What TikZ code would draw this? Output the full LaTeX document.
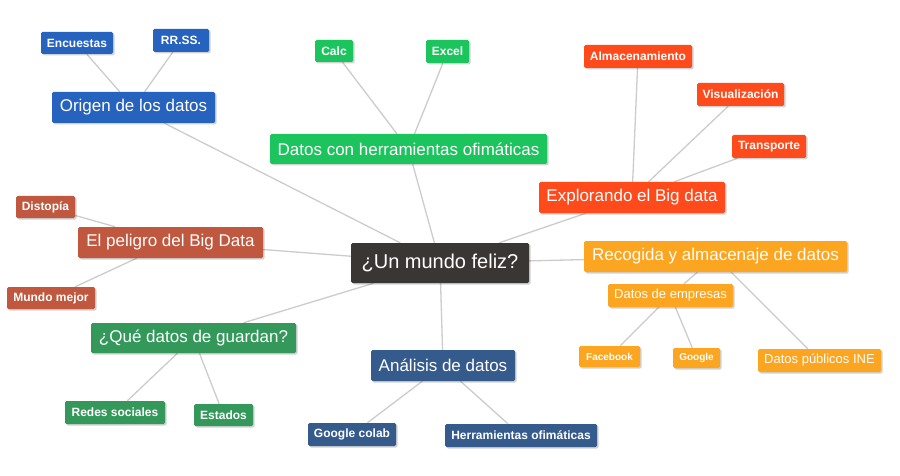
\documentclass[tikz,border=0pt]{standalone}
\usepackage{fontspec}
\setmainfont{Liberation Sans}
\usetikzlibrary{shadows,backgrounds}
\definecolor{cblue}{HTML}{2563BE}
\definecolor{cgreen}{HTML}{1CC45E}
\definecolor{cred}{HTML}{FF4A1C}
\definecolor{cbrown}{HTML}{C0583F}
\definecolor{corange}{HTML}{FCA521}
\definecolor{cdgreen}{HTML}{33985A}
\definecolor{cdblue}{HTML}{355A8C}
\definecolor{ccenter}{HTML}{3A3634}
\definecolor{cline}{HTML}{CCCCCC}
\tikzset{
  box/.style={rectangle, rounded corners=1.5pt, inner sep=0pt, text=white,
    drop shadow={shadow xshift=1.5pt, shadow yshift=-1.5pt, fill=black, opacity=0.18}},
  mainbox/.style={box, font=\fontsize{17}{20}\selectfont},
  smallbox/.style={box, font=\bfseries\fontsize{12}{14}\selectfont},
  midbox/.style={box, font=\fontsize{13}{15}\selectfont},
  tinybox/.style={box, font=\bfseries\fontsize{10}{12}\selectfont},
  centerbox/.style={box, font=\fontsize{20}{24}\selectfont},
  link/.style={draw=cline, line width=1.3pt},
  sz/.style 2 args={minimum width=#1, minimum height=#2},
}
\begin{document}
\begin{tikzpicture}[x=1pt,y=-1pt]
\useasboundingbox (0,0) rectangle (900,476);
% center
\node[centerbox, fill=ccenter, sz={178}{40}] (center) at (440,263) {¿Un mundo feliz?};
% Origen
\node[mainbox, fill=cblue, sz={163}{31}] (origen) at (133.5,107.5) {Origen de los datos};
\node[smallbox, fill=cblue, sz={72}{22}] (enc) at (77,43) {Encuestas};
\node[smallbox, fill=cblue, sz={56}{23}] (rrss) at (181,40.5) {RR.SS.};
% Ofimaticas
\node[mainbox, fill=cgreen, sz={277}{30}] (ofim) at (408.5,149) {Datos con herramientas ofimáticas};
\node[smallbox, fill=cgreen, sz={38}{22}] (calc) at (334,51) {Calc};
\node[smallbox, fill=cgreen, sz={43}{23}] (excel) at (447.5,51.5) {Excel};
% Explorando
\node[mainbox, fill=cred, sz={186}{31}] (explor) at (632,197.5) {Explorando el Big data};
\node[smallbox, fill=cred, sz={108}{23}] (almac) at (638,56.5) {Almacenamiento};
\node[smallbox, fill=cred, sz={87}{23}] (visual) at (740.5,94.5) {Visualización};
\node[smallbox, fill=cred, sz={74}{23}] (transp) at (769,146.5) {Transporte};
% Peligro
\node[mainbox, fill=cbrown, sz={185}{31}] (peligro) at (170.5,242.5) {El peligro del Big Data};
\node[smallbox, fill=cbrown, sz={59}{22}] (disto) at (45.5,207) {Distopía};
\node[smallbox, fill=cbrown, sz={88}{22}] (mundo) at (51,298) {Mundo mejor};
% Recogida
\node[mainbox, fill=corange, sz={263}{31}] (recog) at (715.5,256.5) {Recogida y almacenaje de datos};
\node[midbox, fill=corange, sz={125}{23}] (demp) at (670.5,295.5) {Datos de empresas};
\node[tinybox, fill=corange, sz={61}{21}] (fb) at (609.5,356.5) {Facebook};
\node[tinybox, fill=corange, sz={47}{20}] (goog) at (696.5,358) {Google};
\node[midbox, fill=corange, sz={123}{23}] (ine) at (819.5,360.5) {Datos públicos INE};
% Que datos
\node[mainbox, fill=cdgreen, sz={205}{30}] (que) at (193.5,338) {¿Qué datos de guardan?};
\node[smallbox, fill=cdgreen, sz={100}{23}] (redes) at (115,412.5) {Redes sociales};
\node[smallbox, fill=cdgreen, sz={59}{22}] (estados) at (223.5,415) {Estados};
% Analisis
\node[mainbox, fill=cdblue, sz={144}{31}] (anal) at (443,365.5) {Análisis de datos};
\node[smallbox, fill=cdblue, sz={88}{23}] (colab) at (352,434.5) {Google colab};
\node[smallbox, fill=cdblue, sz={152}{23}] (herr) at (521,435.5) {Herramientas ofimáticas};
\begin{pgfonlayer}{background}
\fill[white] (0,0) rectangle (900,476);
\draw[link] (center) -- (origen);
\draw[link] (origen) -- (enc);
\draw[link] (origen) -- (rrss);
\draw[link] (center) -- (ofim);
\draw[link] (ofim) -- (calc);
\draw[link] (ofim) -- (excel);
\draw[link] (center) -- (explor);
\draw[link] (explor) -- (almac);
\draw[link] (explor) -- (visual);
\draw[link] (explor) -- (transp);
\draw[link] (center) -- (peligro);
\draw[link] (peligro) -- (disto);
\draw[link] (peligro) -- (mundo);
\draw[link] (center) -- (recog);
\draw[link] (recog) -- (demp);
\draw[link] (recog) -- (ine);
\draw[link] (demp) -- (fb);
\draw[link] (demp) -- (goog);
\draw[link] (center) -- (que);
\draw[link] (que) -- (redes);
\draw[link] (que) -- (estados);
\draw[link] (center) -- (anal);
\draw[link] (anal) -- (colab);
\draw[link] (anal) -- (herr);
\end{pgfonlayer}
\end{tikzpicture}
\end{document}
